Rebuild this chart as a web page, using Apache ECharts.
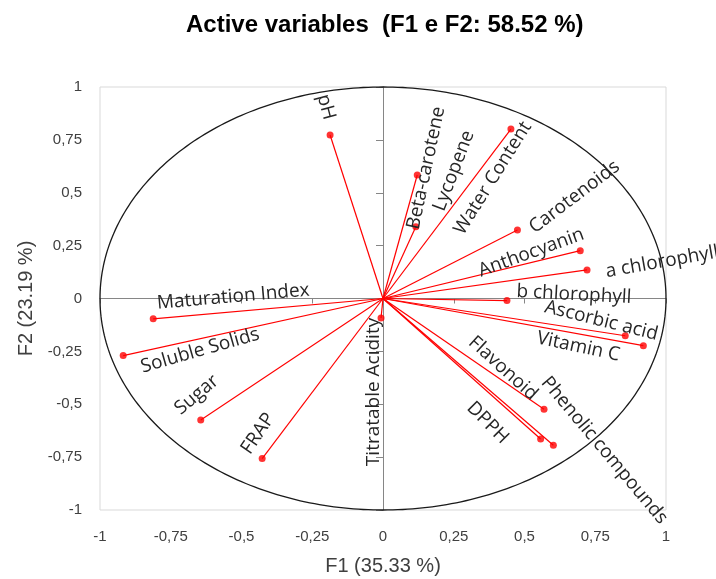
<!DOCTYPE html>
<html>
<head>
<meta charset="utf-8">
<script src="https://cdn.jsdelivr.net/npm/echarts@6/dist/echarts.min.js"></script>
<style>html,body{margin:0;padding:0;background:#fff}#c{width:716px;height:579px}</style>
</head>
<body>
<div id="c"></div>
<script>
// ---- data ----
const variables = ['pH','Beta-carotene','Lycopene','Water Content','Carotenoids','Anthocyanin','a chlorophyll','b chlorophyll','Ascorbic acid','Vitamin C','Flavonoid','Phenolic compounds','DPPH','Titratable Acidity','FRAP','Sugar','Soluble Solids','Maturation Index'];
const f1 = [-0.187, 0.121, 0.116, 0.452, 0.475, 0.697, 0.721, 0.438, 0.856, 0.920, 0.569, 0.602, 0.557, -0.007, -0.427, -0.644, -0.918, -0.812];
const f2 = [0.773, 0.584, 0.339, 0.801, 0.324, 0.226, 0.135, -0.010, -0.176, -0.223, -0.524, -0.694, -0.664, -0.092, -0.757, -0.574, -0.270, -0.096];
const axisTicks = [-1, -0.75, -0.5, -0.25, 0, 0.25, 0.5, 0.75, 1];
const titleText = 'Active variables  (F1 e F2: 58.52 %)';
const xName = 'F1 (35.33 %)';
const yName = 'F2 (23.19 %)';

// ---- label placement (pixel offset from point, rotation in degrees) ----
const labelStyle = [
  [-4,-28,-75],[9,-7,78],[38,-56,69],[-18,49,58],[57,-33,37],[-49,2,20],[75,-8,10],[67,-6,-3],
  [-24,-15,-14],[-65,1,-12],[-41,-41,-42],[51,5,-50],[-53,-16,-45],[-7,74,90],[-4,-25,56],[-4,-25,40],[77,-5,16],[80,-22,5]
];

const fmt = v => String(v).replace('.', ',');
const chart = echarts.init(document.getElementById('c'), null, {renderer:'canvas'});
const gridCfg = {left:100, right:50, top:87, bottom:69, show:true, borderColor:'#d9d9d9', borderWidth:1, containLabel:false, outerBoundsMode:'none'};

const option = {
  animation:false,
  backgroundColor:'#ffffff',
  title:{text:titleText, left:181, top:8, textStyle:{fontFamily:'"Liberation Sans", Arial, sans-serif', fontSize:24, fontWeight:'bold', color:'#000'}},
  grid:gridCfg,
  xAxis:[
    {type:'value', min:axisTicks[0], max:axisTicks[axisTicks.length-1], interval:0.25, position:'bottom',
     axisLine:{show:false, onZero:false}, axisTick:{show:false}, splitLine:{show:false},
     axisLabel:{formatter:fmt, margin:19, fontFamily:'"Liberation Sans", Arial, sans-serif', fontSize:15, color:'#404040'},
     name:xName, nameLocation:'middle', nameGap:46, nameTextStyle:{fontFamily:'"Liberation Sans", Arial, sans-serif', fontSize:20, color:'#404040'}},
    {type:'value', min:-1, max:1, interval:0.25, position:'bottom',
     axisLine:{show:true, onZero:true, onZeroAxisIndex:0, lineStyle:{color:'#868686', width:1}},
     axisTick:{show:true, length:5, lineStyle:{color:'#868686'}}, axisLabel:{show:false}, splitLine:{show:false}}
  ],
  yAxis:[
    {type:'value', min:axisTicks[0], max:axisTicks[axisTicks.length-1], interval:0.25, position:'left',
     axisLine:{show:false, onZero:false}, axisTick:{show:false}, splitLine:{show:false},
     axisLabel:{formatter:fmt, margin:18, fontFamily:'"Liberation Sans", Arial, sans-serif', fontSize:15, color:'#404040'},
     name:yName, nameLocation:'middle', nameGap:62, nameRotate:90, nameTextStyle:{fontFamily:'"Liberation Sans", Arial, sans-serif', fontSize:20, color:'#404040'}},
    {type:'value', min:-1, max:1, interval:0.25, position:'left',
     axisLine:{show:true, onZero:true, onZeroAxisIndex:0, lineStyle:{color:'#868686', width:1}},
     axisTick:{show:true, length:7, lineStyle:{color:'#868686'}}, axisLabel:{show:false}, splitLine:{show:false}}
  ],
  series:[
    {type:'custom', coordinateSystem:'cartesian2d', xAxisIndex:0, yAxisIndex:0, data:[[0,0]], silent:true, z:1,
     renderItem:function(params, api){
       const pts = [];
       for (let i = 0; i <= 360; i++) { const t = i*Math.PI/180; pts.push(api.coord([Math.cos(t), Math.sin(t)])); }
       return {type:'polyline', shape:{points:pts}, style:{stroke:'#1a1a1a', fill:null, lineWidth:1.3}};
     }},
    {type:'lines', coordinateSystem:'cartesian2d', xAxisIndex:0, yAxisIndex:0, z:3,
     data: variables.map((n,i)=>({coords:[[0,0],[f1[i],f2[i]]]})),
     lineStyle:{color:'#ff0000', width:1.2, opacity:1}},
    {type:'scatter', xAxisIndex:0, yAxisIndex:0, z:4, symbolSize:7, itemStyle:{color:'#ff0000'},
     data: variables.map((n,i)=>[f1[i],f2[i]])}
  ]
};
chart.setOption(option);

const texts = variables.map((n,i)=>{
  const p = chart.convertToPixel({xAxisIndex:0, yAxisIndex:0}, [f1[i], f2[i]]);
  const s = labelStyle[i];
  return {type:'text', x:p[0]+s[0], y:p[1]+s[1], rotation:s[2]*Math.PI/180, z:100,
    style:{text:n, font:'19px "Open Sans", sans-serif', fill:'#262626', align:'center', verticalAlign:'middle'}};
});
chart.setOption({graphic:texts});
</script>
</body>
</html>
